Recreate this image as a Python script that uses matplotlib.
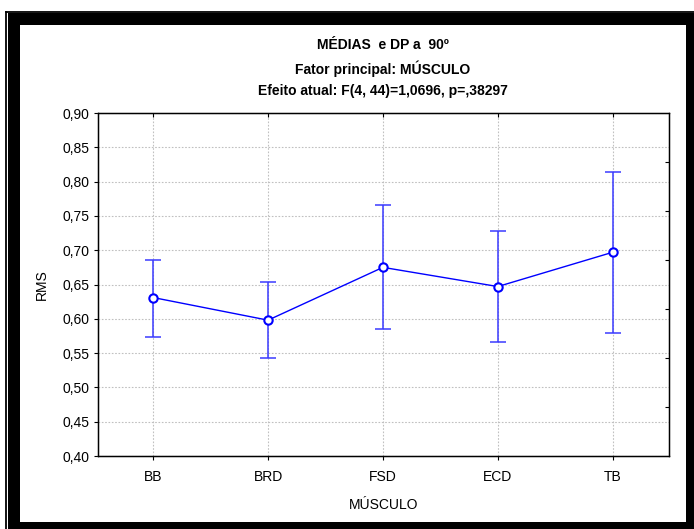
import matplotlib
matplotlib.use('Agg')
from matplotlib import pyplot
from matplotlib.patches import Rectangle
from matplotlib.lines import Line2D

pyplot.rcParams['font.family'] = ['Liberation Sans', 'DejaVu Sans']

# dados
musculos = ['BB', 'BRD', 'FSD', 'ECD', 'TB']
medias = [0.631, 0.598, 0.675, 0.647, 0.697]
superior = [0.686, 0.654, 0.766, 0.728, 0.814]
inferior = [0.573, 0.543, 0.585, 0.566, 0.580]
ticks_y = [0.40, 0.45, 0.50, 0.55, 0.60, 0.65, 0.70, 0.75, 0.80, 0.85, 0.90]

W, H = 694, 529
figura = pyplot.figure(figsize=(W / 100, H / 100), dpi=100)

def px(x0, y0, x1, y1):
    # retângulo em pixels (origem no topo) -> fração da figura
    return (x0 / W, 1 - y1 / H), (x1 - x0) / W, (y1 - y0) / H

# moldura preta (atrás dos eixos)
xy, w, h = px(7.5, 13, W, H)
figura.patches.append(Rectangle(xy, w, h, transform=figura.transFigure, color='black', lw=0, zorder=-10))
xy, w, h = px(19.5, 25, 686, 521.5)
figura.patches.append(Rectangle(xy, w, h, transform=figura.transFigure, color='white', lw=0, zorder=-9))
figura.lines.append(Line2D([5.8 / W, 5.8 / W], [0, 1 - 11.5 / H], transform=figura.transFigure, color='black', lw=1.3, zorder=-10))
figura.lines.append(Line2D([5.8 / W, 1], [1 - 11.5 / H, 1 - 11.5 / H], transform=figura.transFigure, color='black', lw=1.3, zorder=-10))

eixo = figura.add_axes([98 / W, 1 - 456 / H, (669 - 98) / W, (456 - 113) / H])
x = list(range(len(musculos)))
erro_baixo = [m - i for m, i in zip(medias, inferior)]
erro_cima = [s - m for m, s in zip(medias, superior)]

eixo.errorbar(x, medias, yerr=[erro_baixo, erro_cima], fmt='none', ecolor='#3a3aff',
              elinewidth=1.1, capsize=6, capthick=1.1, zorder=3)
eixo.plot(x, medias, color='#0000ff', lw=1.0, marker='o', markersize=6,
          markerfacecolor='white', markeredgecolor='#0000ff', markeredgewidth=1.5, zorder=4)

eixo.set_xlim(-0.48, 4.49)
eixo.set_ylim(0.40, 0.90)
eixo.set_xticks(x)
eixo.set_xticklabels(musculos, fontsize=10)
eixo.set_yticks(ticks_y)
eixo.set_yticklabels([('%.2f' % v).replace('.', ',') for v in ticks_y], fontsize=10)
eixo.tick_params(axis='both', length=3, width=0.8, pad=3, direction='out')
eixo.tick_params(axis='x', pad=7)
eixo.grid(True, linestyle=(0, (1.5, 1.5)), color='#c0c0c0', lw=0.8)
for s in eixo.spines.values():
    s.set_linewidth(1.0)
    s.set_color('#333333')

# marcas do lado direito (para dentro)
direita = eixo.twinx()
direita.set_ylim(0, 7)
direita.set_yticks(range(1, 7))
direita.tick_params(axis='y', which='both', direction='in', length=3, width=0.8,
                    right=True, left=False, labelright=False, labelleft=False)

# marcas de cima (para dentro)
topo = eixo.twiny()
topo.set_xlim(eixo.get_xlim())
topo.set_xticks(x)
topo.tick_params(axis='x', which='both', direction='in', length=3, width=0.8,
                 top=True, bottom=False, labeltop=False, labelbottom=False)

eixo.set_xlabel('MÚSCULO', fontsize=10, labelpad=10)
eixo.set_ylabel('RMS', fontsize=10, labelpad=10)

figura.text(383 / W, 1 - 45 / H, 'MÉDIAS  e DP a  90º', ha='center', va='center', fontsize=10, fontweight='bold')
figura.text(383 / W, 1 - 69 / H, 'Fator principal: MÚSCULO', ha='center', va='center', fontsize=10, fontweight='bold')
figura.text(383 / W, 1 - 91 / H, 'Efeito atual: F(4, 44)=1,0696, p=,38297', ha='center', va='center', fontsize=10, fontweight='bold')

figura.savefig('out.png', dpi=100)
